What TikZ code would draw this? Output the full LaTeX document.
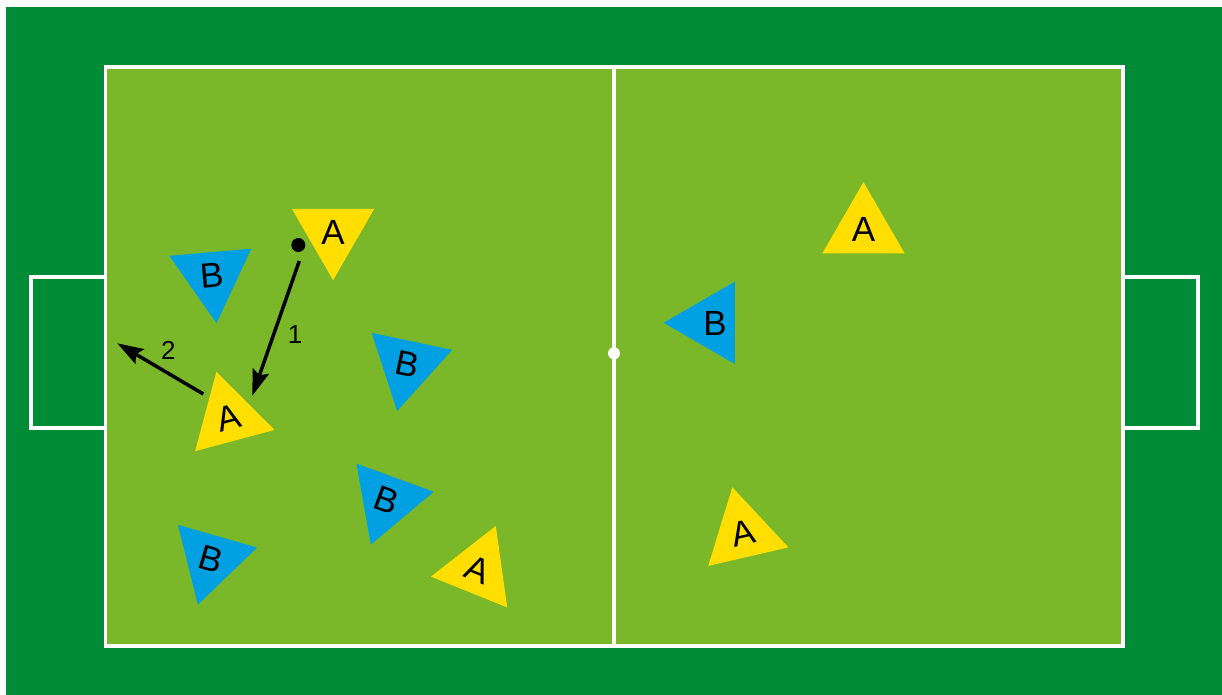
\documentclass[tikz,border=0pt]{standalone}
\usepackage{fontspec}
\setmainfont{Liberation Sans}
\usetikzlibrary{shapes.geometric,arrows.meta}
\definecolor{darkgrass}{RGB}{0,139,54}
\definecolor{lightgrass}{RGB}{122,184,42}
\definecolor{teamA}{RGB}{255,222,0}
\definecolor{teamB}{RGB}{0,160,227}
\tikzset{
 player/.style={regular polygon, regular polygon sides=3, minimum size=47.5pt, inner sep=0pt, font=\fontsize{17.5}{20}\selectfont, text=black},
 pa/.style={player, fill=teamA},
 pb/.style={player, fill=teamB, shape border rotate=180},
 fieldline/.style={draw=white, line width=1.6pt},
 pass/.style={line width=1.75pt, -{Stealth[length=13pt,width=8.5pt,inset=2.2pt]}},
 numlabel/.style={font=\fontsize{13}{15}\selectfont, text=black}
}
\begin{document}
\begin{tikzpicture}[x=0.5pt,y=-0.5pt]
\useasboundingbox (0,0) rectangle (1222,695);
\fill[white] (0,0) rectangle (1222,695);
\fill[darkgrass] (6,7) rectangle (1222,695);
% field
\fill[lightgrass] (105.5,67) rectangle (1123,646);
\draw[fieldline] (105.5,67) rectangle (1123,646);
\draw[fieldline] (614,67) -- (614,646);
\draw[fieldline] (105.5,277) -- (31,277) -- (31,428) -- (105.5,428);
\draw[fieldline] (1123,277) -- (1198,277) -- (1198,428) -- (1123,428);
\node[circle, fill=white, minimum size=6pt, inner sep=0pt] (centerspot) at (614,353.3) {};
% team A (yellow)
\node[pa, shape border rotate=180] (a1) at (333.1,232.7) {A};
\node[pa, rotate=15] (a2) at (228.7,417.6) {A};
\node[pa, rotate=-22] (a3) at (478,570) {A};
\node[pa] (a4) at (863.5,229.6) {A};
\node[pa, rotate=13] (a5) at (743,533.5) {A};
% team B (blue)
\node[pb, rotate=5] (b1) at (212.4,275.9) {B};
\node[pb, rotate=-12] (b2) at (407,364.6) {B};
\node[pb, rotate=-20] (b3) at (387,500) {B};
\node[pb, rotate=-16] (b4) at (211,559) {B};
\node[pb, shape border rotate=90] (b5) at (711.1,322.8) {};
\node[font=\fontsize{17.5}{20}\selectfont, inner sep=0pt] (b5text) at (715,323.3) {B};
% ball
\node[circle, fill=black, minimum size=7pt, inner sep=0pt] (ball) at (298.3,245) {};
% passes
\coordinate (p1s) at (299.3,261);
\coordinate (p1e) at (252.3,395.7);
\coordinate (p2s) at (203.3,394);
\coordinate (p2e) at (117.3,343.3);
\draw[pass] (p1s) -- (p1e);
\draw[pass] (p2s) -- (p2e);
\node[numlabel] (n1) at (295,335) {1};
\node[numlabel] (n2) at (168.3,350) {2};
\end{tikzpicture}
\end{document}
